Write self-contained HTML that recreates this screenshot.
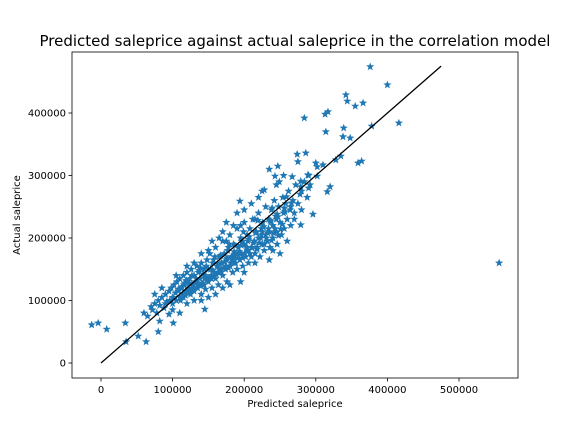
<!DOCTYPE html>
<html><head><meta charset="utf-8"><style>
body{margin:0;background:#fff;font-family:"DejaVu Sans","Liberation Sans",sans-serif}
svg{display:block}
</style></head><body>
<svg id="chart" width="576" height="432">
<text x="295" y="46" font-size="15" text-anchor="middle">Predicted saleprice against actual saleprice in the correlation model</text>
<g id="marks"></g>
<rect x="72" y="52" width="446" height="326" fill="none" stroke="#000" stroke-width="0.8"/>
<g id="axes"></g>
<text x="295" y="407" font-size="10" text-anchor="middle">Predicted saleprice</text>
<text x="20" y="215" font-size="10" text-anchor="middle" transform="rotate(-90 20 215)">Actual saleprice</text>
</svg>
<script>
const xTicks=[0,100000,200000,300000,400000,500000];
const yTicks=[0,100000,200000,300000,400000];
const lineEnds=[0,475000];
const predicted=[-13,-4,8,34,35,52,63,80,82,101,145,376,400,342,344,355,366,313,317,284,314,339,338,348,378,416,359,364,328,335,274,286,275,247,300,302,310,243,249,267,279,289,302,292,320,316,228,194,296,279,556,
60,65,70,72,75,78,80,82,85,88,90,92,95,96,98,100,100,102,104,105,106,108,110,110,112,114,115,116,118,120,120,122,124,125,126,128,130,130,132,134,135,136,138,140,140,142,144,145,146,148,150,150,152,154,155,156,158,160,160,162,164,165,166,168,170,170,172,174,175,176,178,180,180,182,184,185,186,188,190,190,192,194,195,196,198,200,200,202,204,205,206,208,210,210,212,214,215,216,218,220,220,222,224,225,226,228,230,230,232,234,235,236,238,240,240,242,244,245,246,248,250,252,254,255,256,258,260,262,264,265,268,270,272,275,278,280,284,288,290,250,235,260,200,180,160,140,120,110,95,130,150,170,190,210,220,155,175,120,105,85,75,140,165,185,200,225,245,255,235,215,195,175,145,135,125,165,185,205,225,245,265,270,280,290,240,215,195,170,150,130,115,100,90,
108,113,118,123,128,133,138,143,148,153,158,163,168,173,178,183,188,193,198,203,208,213,218,223,228,233,238,243,248,253,111,117,121,127,131,137,141,147,151,157,161,167,171,177,181,187,191,197,201,207,211,217,221,227,231,237,241,247,251,257,126,136,146,156,166,176,186,196,206,216,226,236,246,256,266,119,139,159,179,199,219,239,259,279,144,154,164,174,184,194,204,214,224,234];
const actual=[61,64,54,64,34,43,34,50,67,64,86,474,445,429,419,411,416,398,402,392,370,376,362,360,379,384,320,323,325,331,334,336,322,315,320,314,317,299,290,298,291,301,299,285,282,274,277,259,238,221,160,
80,75,90,85,95,80,100,92,105,88,110,98,115,100,120,105,95,125,112,100,130,118,105,135,120,110,140,125,115,145,130,120,135,110,150,125,140,115,130,155,120,145,135,110,160,125,150,140,118,165,130,150,175,140,120,160,145,135,185,155,125,170,145,160,140,195,175,150,165,130,185,155,205,170,145,190,160,175,150,215,185,165,200,175,155,190,225,170,205,180,160,215,185,170,230,195,175,210,185,240,200,170,215,190,225,180,205,250,195,230,210,185,245,220,200,260,235,210,190,250,225,205,265,240,215,255,230,275,245,220,260,240,285,255,270,245,290,265,300,175,165,195,145,125,110,100,95,80,78,160,180,210,240,255,265,195,225,155,140,120,110,175,200,220,245,275,285,300,310,230,220,195,135,125,115,150,170,195,210,230,250,230,275,280,180,160,130,120,105,100,105,85,95,
115,122,108,128,118,135,124,142,132,150,138,158,146,162,152,170,160,178,168,185,175,192,182,200,190,208,196,215,204,222,100,128,112,140,120,148,128,155,136,165,142,172,152,180,160,188,168,195,176,202,184,210,192,218,200,226,208,234,214,242,118,128,138,148,158,168,178,188,198,208,218,228,238,248,256,132,152,170,190,210,228,248,266,282,125,135,145,155,165,175,185,195,205,215];
const X0=72,X1=518,Y0=52,Y1=378;
const sx=v=>101+v*0.000716, sy=v=>363-v*0.000625;
const NS="http://www.w3.org/2000/svg";
const axes=document.getElementById('axes'), marks=document.getElementById('marks');
function mk(t,a,p){const e=document.createElementNS(NS,t);for(const k in a)e.setAttribute(k,a[k]);p.appendChild(e);return e;}
xTicks.forEach(v=>{const x=sx(v);
 const l=mk('line',{x1:x,x2:x,y1:Y1,y2:Y1+3.5,stroke:'#000','stroke-width':0.8},axes);
 
 
 const t=mk('text',{x:x,y:Y1+15,'font-size':10,'text-anchor':'middle'},axes);t.textContent=v;
 
 });
yTicks.forEach(v=>{const y=sy(v);
 const l=mk('line',{x1:X0-3.5,x2:X0,y1:y,y2:y,stroke:'#000','stroke-width':0.8},axes);
 
 
 const t=mk('text',{x:X0-6,y:y+3.5,'font-size':10,'text-anchor':'end'},axes);t.textContent=v;
 
 });
function star(cx,cy,r){let p=[];for(let i=0;i<10;i++){const a=-Math.PI/2+i*Math.PI/5,rr=i%2?r*0.42:r;p.push((cx+rr*Math.cos(a)).toFixed(1)+','+(cy+rr*Math.sin(a)).toFixed(1));}return p.join(' ');}
predicted.forEach((p,i)=>{const s=mk('polygon',{points:star(sx(p*1000),sy(actual[i]*1000),4.3),fill:'#1f77b4'},marks);
 
 });
const ln=mk('line',{x1:sx(lineEnds[0]),y1:sy(lineEnds[0]),x2:sx(lineEnds[1]),y2:sy(lineEnds[1]),stroke:'#000','stroke-width':1.3},marks);


</script>
</body></html>
